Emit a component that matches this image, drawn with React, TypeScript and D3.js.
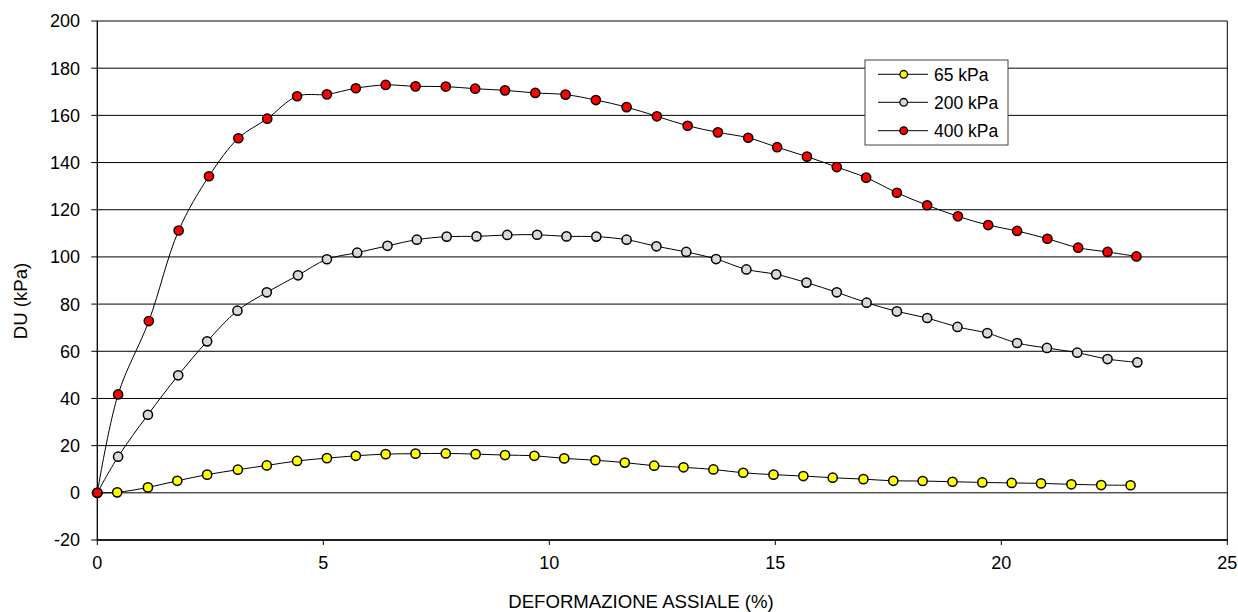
import React from "react";
import * as d3 from "d3";

const xTicks = [0, 5, 10, 15, 20, 25];
const yTicks = [-20, 0, 20, 40, 60, 80, 100, 120, 140, 160, 180, 200];

const seriesNames = ["65 kPa", "200 kPa", "400 kPa"];
const seriesColors = ["#ffff00", "#d9d9d9", "#ff0000"];

const x65 = [0, 0.44, 1.12, 1.77, 2.43, 3.11, 3.75, 4.42, 5.08, 5.72, 6.38, 7.04, 7.71, 8.37, 9.02, 9.67, 10.33, 11.02, 11.67, 12.32, 12.97, 13.63, 14.29, 14.96, 15.62, 16.27, 16.95, 17.61, 18.26, 18.92, 19.58, 20.23, 20.88, 21.55, 22.21, 22.86];
const y65 = [0, 0.2, 2.3, 5.1, 7.7, 9.8, 11.6, 13.5, 14.7, 15.7, 16.4, 16.6, 16.7, 16.4, 16.0, 15.7, 14.6, 13.8, 12.8, 11.5, 10.8, 9.9, 8.5, 7.7, 7.1, 6.4, 5.8, 5.1, 5.0, 4.7, 4.4, 4.2, 4.0, 3.6, 3.3, 3.2];

const x200 = [0, 0.46, 1.12, 1.79, 2.43, 3.10, 3.75, 4.44, 5.08, 5.75, 6.42, 7.07, 7.73, 8.39, 9.07, 9.73, 10.38, 11.04, 11.71, 12.37, 13.03, 13.69, 14.36, 15.02, 15.69, 16.36, 17.02, 17.69, 18.36, 19.03, 19.69, 20.35, 21.01, 21.68, 22.35, 23.01];
const y200 = [0, 15.3, 33.1, 49.8, 64.2, 77.2, 85.0, 92.2, 99.0, 101.8, 104.7, 107.3, 108.6, 108.7, 109.3, 109.4, 108.7, 108.6, 107.3, 104.5, 102.1, 99.1, 94.7, 92.6, 89.1, 85.0, 80.6, 76.9, 74.1, 70.3, 67.7, 63.5, 61.4, 59.4, 56.7, 55.3];

const x400 = [0, 0.46, 1.14, 1.80, 2.47, 3.12, 3.76, 4.42, 5.08, 5.72, 6.38, 7.04, 7.71, 8.36, 9.02, 9.69, 10.36, 11.03, 11.71, 12.38, 13.06, 13.73, 14.40, 15.04, 15.70, 16.36, 17.01, 17.69, 18.36, 19.04, 19.71, 20.35, 21.02, 21.70, 22.35, 22.99];
const y400 = [0, 41.7, 72.8, 111.2, 134.2, 150.3, 158.6, 168.1, 168.9, 171.5, 172.9, 172.3, 172.2, 171.3, 170.6, 169.5, 168.8, 166.5, 163.5, 159.6, 155.6, 152.8, 150.5, 146.5, 142.5, 138.1, 133.6, 127.2, 121.9, 117.2, 113.5, 111.0, 107.7, 103.9, 102.1, 100.2];

const seriesX = [x65, x200, x400];
const seriesY = [y65, y200, y400];

const W = 1238;
const H = 612;
const plot = { left: 97.3, right: 1227.3, top: 21, bottom: 540 };
const FONT = "Liberation Sans, Arial, sans-serif";

export default function App() {
  const xs = d3.scaleLinear().domain([0, 25]).range([plot.left, plot.right]);
  const ys = d3.scaleLinear().domain([-20, 200]).range([plot.bottom, plot.top]);
  const line = d3
    .line<[number, number]>()
    .x((d) => xs(d[0]))
    .y((d) => ys(d[1]))
    .curve(d3.curveCatmullRom.alpha(0.5));

  const data = seriesX.map((xa, i) => xa.map((v, j) => [v, seriesY[i][j]] as [number, number]));

  const legend = { x: 865, y: 60, w: 143, h: 85 };
  const legendRows = [74.3, 102.3, 130.7];

  return (
    <svg width={W} height={H} style={{ position: "absolute", left: 0, top: 0, background: "#fff" }} fontFamily={FONT}>
      <rect x={0} y={0} width={W} height={H} fill="#fff" />
      {yTicks.map((t) => (
        <line key={"g" + t} x1={plot.left} x2={plot.right} y1={ys(t)} y2={ys(t)} stroke="#000" strokeWidth={1} />
      ))}
      <line x1={plot.right} x2={plot.right} y1={plot.top} y2={plot.bottom} stroke="#000" strokeWidth={1} />
      <line x1={plot.left} x2={plot.left} y1={plot.top} y2={plot.bottom} stroke="#000" strokeWidth={1.3} />
      <line x1={plot.left} x2={plot.right} y1={plot.bottom} y2={plot.bottom} stroke="#000" strokeWidth={1.3} />
      {yTicks.map((t) => (
        <g key={"yt" + t}>
          <line x1={plot.left - 6} x2={plot.left} y1={ys(t)} y2={ys(t)} stroke="#000" />
          <text x={80} y={ys(t)} dy="0.36em" textAnchor="end" fontSize={18} fill="#000">
            {t}
          </text>
        </g>
      ))}
      {xTicks.map((t) => (
        <g key={"xt" + t}>
          <line x1={xs(t)} x2={xs(t)} y1={plot.bottom} y2={plot.bottom + 5} stroke="#000" />
          <text x={xs(t)} y={569} textAnchor="middle" fontSize={18} fill="#000">
            {t}
          </text>
        </g>
      ))}
      <text x={641} y={608} textAnchor="middle" fontSize={18.6} fill="#000">
        DEFORMAZIONE ASSIALE (%)
      </text>
      <text transform={`translate(27,${301}) rotate(-90)`} textAnchor="middle" fontSize={18.6} fill="#000">
        DU (kPa)
      </text>
      {data.map((d, i) => (
        <path key={"l" + i} d={line(d) || ""} fill="none" stroke="#000" strokeWidth={1} />
      ))}
      {data.map((d, i) => (
        <g key={"m" + i}>
          {d.map((p, j) => (
            <circle key={j} cx={xs(p[0])} cy={ys(p[1])} r={4.6} fill={seriesColors[i]} stroke="#000" strokeWidth={1.5} />
          ))}
        </g>
      ))}
      <rect x={legend.x} y={legend.y} width={legend.w} height={legend.h} fill="#fff" stroke="#444" strokeWidth={1} />
      {seriesNames.map((n, i) => (
        <g key={"lg" + i}>
          <line x1={878} x2={928} y1={legendRows[i]} y2={legendRows[i]} stroke="#000" strokeWidth={1} />
          <circle cx={903.7} cy={legendRows[i]} r={3.8} fill={seriesColors[i]} stroke="#000" strokeWidth={1.3} />
          <text x={934} y={legendRows[i]} dy="0.36em" fontSize={17.5} fill="#000">
            {n}
          </text>
        </g>
      ))}
    </svg>
  );
}
